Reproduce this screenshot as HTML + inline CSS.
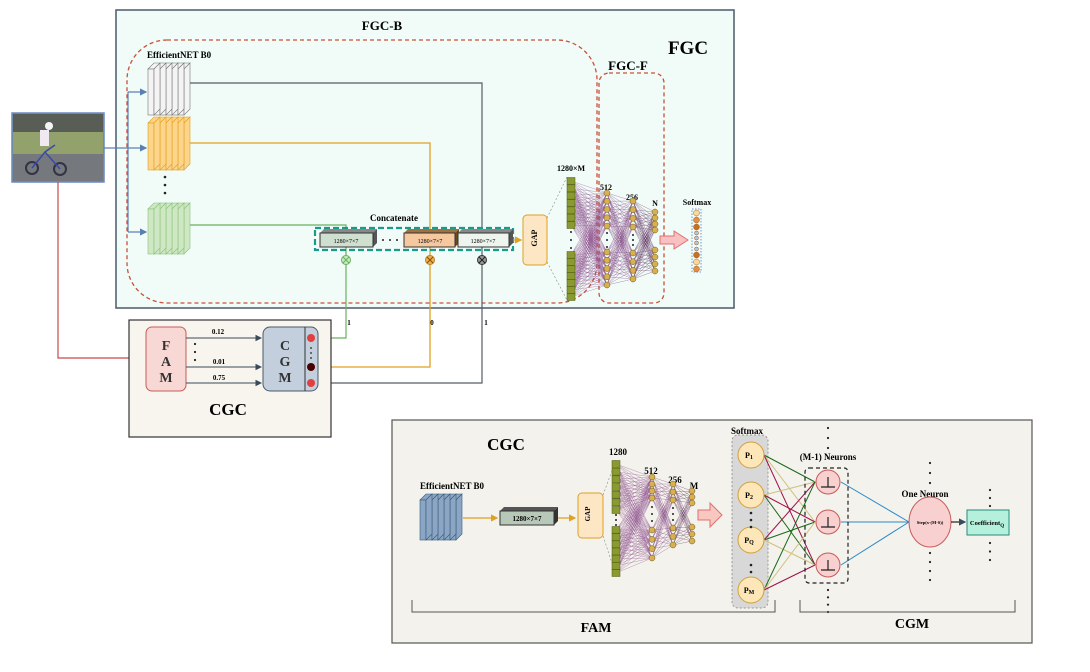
<!DOCTYPE html>
<html><head><meta charset="utf-8"><style>
html,body{margin:0;padding:0;background:#fff;}
svg{display:block;font-family:"Liberation Serif",serif;font-weight:bold;}
</style></head><body>
<svg id="s" width="1090" height="672" viewBox="0 0 1090 672" xmlns="http://www.w3.org/2000/svg">
<defs>
<marker id="ab" markerWidth="6" markerHeight="6" refX="5" refY="3" orient="auto"><path d="M0,0 L6,3 L0,6 z" fill="#5b7fb5"/></marker>
<marker id="ak" markerWidth="6" markerHeight="6" refX="5" refY="3" orient="auto"><path d="M0,0 L6,3 L0,6 z" fill="#3a4a5a"/></marker>
<marker id="ao" markerWidth="6" markerHeight="6" refX="5" refY="3" orient="auto"><path d="M0,0 L6,3 L0,6 z" fill="#e0a020"/></marker>
</defs>
<rect x="116" y="10" width="618" height="298" fill="#f1fbf8" stroke="#4a5a6a" stroke-width="1.5"/>
<text x="382" y="30" font-size="13" text-anchor="middle">FGC-B</text>
<text x="688" y="54" font-size="19" text-anchor="middle">FGC</text>
<text x="628" y="70" font-size="13" text-anchor="middle">FGC-F</text>
<rect x="127" y="40" width="470" height="263" rx="40" fill="none" stroke="#c8503a" stroke-width="1.3" stroke-dasharray="4,3"/>
<rect x="599" y="73" width="65" height="230" rx="10" fill="none" stroke="#c8503a" stroke-width="1.3" stroke-dasharray="4,3"/>
<text x="147" y="58" font-size="9">EfficientNET B0</text>
<g id="stacks"></g>
<circle cx="165" cy="177" r="1.3" fill="#222"/><circle cx="165" cy="185" r="1.3" fill="#222"/><circle cx="165" cy="193" r="1.3" fill="#222"/>
<rect x="12" y="113" width="92" height="69" fill="#7a8a6a" stroke="#6a8ac0" stroke-width="1.5"/>
<rect x="13" y="114" width="90" height="18" fill="#4a5048"/>
<rect x="13" y="132" width="90" height="22" fill="#8a9a60"/>
<rect x="13" y="154" width="90" height="27" fill="#6a6e72"/>
<circle cx="32" cy="168" r="6" fill="none" stroke="#223" stroke-width="2"/><circle cx="60" cy="169" r="6" fill="none" stroke="#223" stroke-width="2"/>
<path d="M32,168 L45,152 L60,169 M45,152 L55,145" stroke="#2a3aa0" stroke-width="1.5" fill="none"/>
<rect x="40" y="130" width="9" height="16" fill="#f0e8f0"/><circle cx="49" cy="126" r="4" fill="#f4f4f4"/>
<rect x="13" y="114" width="90" height="67" fill="#ffffff" opacity="0.08"/>
<path d="M104,148 H128 M128,92 V232" stroke="#5b7fb5" stroke-width="1.2" fill="none"/>
<line x1="128" y1="92" x2="146" y2="92" stroke="#5b7fb5" stroke-width="1.2" marker-end="url(#ab)"/>
<line x1="128" y1="148" x2="146" y2="148" stroke="#5b7fb5" stroke-width="1.2" marker-end="url(#ab)"/>
<line x1="128" y1="232" x2="146" y2="232" stroke="#5b7fb5" stroke-width="1.2" marker-end="url(#ab)"/>
<path d="M190,83 H482 V383 H318" stroke="#555e66" stroke-width="1.2" fill="none"/>
<path d="M190,143 H430 V367 H318" stroke="#e0a020" stroke-width="1.3" fill="none"/>
<path d="M190,225 H346 V338 H318" stroke="#6ab060" stroke-width="1.2" fill="none"/>
<path d="M58,182 V358 H129" stroke="#c84a4a" stroke-width="1.2" fill="none"/>
<text x="394" y="221" font-size="9" text-anchor="middle">Concatenate</text>
<rect x="315" y="228" width="198" height="22" fill="none" stroke="#1a9a8a" stroke-width="2.2" stroke-dasharray="6,3"/>
<g font-size="6" font-weight="normal" text-anchor="middle">
<polygon points="320,233 324,229 377,229 373,233" fill="#888"/><polygon points="373,233 377,229 377,243 373,247" fill="#555"/>
<rect x="320" y="233" width="53" height="14" fill="#cfe0d0" stroke="#333"/><text x="346" y="243">1280×7×7</text>
<circle cx="383" cy="240" r="1" fill="#222"/><circle cx="390" cy="240" r="1" fill="#222"/><circle cx="397" cy="240" r="1" fill="#222"/>
<polygon points="404,233 408,229 459,229 455,233" fill="#a07040"/><polygon points="455,233 459,229 459,243 455,247" fill="#6a4a20"/>
<rect x="404" y="233" width="51" height="14" fill="#f5c8a0" stroke="#333"/><text x="430" y="243">1280×7×7</text>
<polygon points="458,233 462,229 513,229 509,233" fill="#888"/><polygon points="509,233 513,229 513,243 509,247" fill="#555"/>
<rect x="458" y="233" width="51" height="14" fill="#eef4ee" stroke="#333"/><text x="483" y="243">1280×7×7</text>
</g>
<line x1="513" y1="240" x2="521" y2="240" stroke="#e0a020" stroke-width="1.2" marker-end="url(#ao)"/>
<g stroke-width="1">
<circle cx="346" cy="260" r="4.5" fill="#c8eac0" stroke="#6ab060"/><path d="M343,257 l6,6 M349,257 l-6,6" stroke="#6ab060"/>
<circle cx="430" cy="260" r="4.5" fill="#f0b050" stroke="#c08020"/><path d="M427,257 l6,6 M433,257 l-6,6" stroke="#805010"/>
<circle cx="482" cy="260" r="4.5" fill="#999" stroke="#333"/><path d="M479,257 l6,6 M485,257 l-6,6" stroke="#222"/>
</g>
<rect x="523" y="215" width="24" height="50" rx="4" fill="#fde6c4" stroke="#e0a020"/>
<text x="539" y="240" font-size="8" text-anchor="middle" transform="rotate(-90 537 240)">GAP</text>
<line x1="547" y1="218" x2="567" y2="177" stroke="#888" stroke-width="0.6" stroke-dasharray="2,2"/>
<line x1="547" y1="262" x2="567" y2="300" stroke="#888" stroke-width="0.6" stroke-dasharray="2,2"/>
<text x="571" y="171" font-size="8" text-anchor="middle">1280×M</text>
<text x="606" y="190" font-size="8" text-anchor="middle">512</text>
<text x="632" y="200" font-size="8" text-anchor="middle">256</text>
<text x="655" y="206" font-size="8" text-anchor="middle">N</text>
<text x="697" y="205" font-size="8" text-anchor="middle">Softmax</text>
<g id="net1"></g>
<polygon points="660,236 674,236 674,231 688,240 674,249 674,244 660,244" fill="#f8c0c0" stroke="#e07070"/>
<rect x="692" y="209" width="9" height="63" fill="none" stroke="#6a9ad0" stroke-dasharray="1.5,1.5"/>
<g id="soft"></g>
<rect x="129" y="320" width="202" height="117" fill="#f8f5ee" stroke="#333" stroke-width="1.2"/>
<rect x="146" y="327" width="40" height="64" rx="6" fill="#f8d8d4" stroke="#c85a5a"/>
<text x="166" y="350" font-size="14" text-anchor="middle" fill="#333">F</text>
<text x="166" y="366" font-size="14" text-anchor="middle" fill="#333">A</text>
<text x="166" y="382" font-size="14" text-anchor="middle" fill="#333">M</text>
<rect x="263" y="327" width="55" height="64" rx="7" fill="#c3cfdc" stroke="#4a5a6a"/>
<line x1="305" y1="327" x2="305" y2="391" stroke="#333"/>
<text x="285" y="350" font-size="14" text-anchor="middle" fill="#333">C</text>
<text x="285" y="366" font-size="14" text-anchor="middle" fill="#333">G</text>
<text x="285" y="382" font-size="14" text-anchor="middle" fill="#333">M</text>
<circle cx="311" cy="338" r="4" fill="#e04040"/><circle cx="311" cy="367" r="4" fill="#4a0000"/><circle cx="311" cy="383" r="4" fill="#e04040"/>
<circle cx="311" cy="348" r="0.9" fill="#222"/><circle cx="311" cy="353" r="0.9" fill="#222"/><circle cx="311" cy="358" r="0.9" fill="#222"/>
<g stroke="#3a4a5a" stroke-width="1.1">
<line x1="186" y1="338" x2="261" y2="338" marker-end="url(#ak)"/>
<line x1="186" y1="367" x2="261" y2="367" marker-end="url(#ak)"/>
<line x1="186" y1="383" x2="261" y2="383" marker-end="url(#ak)"/>
</g>
<circle cx="195" cy="344" r="1.1" fill="#222"/><circle cx="195" cy="352" r="1.1" fill="#222"/><circle cx="195" cy="360" r="1.1" fill="#222"/>
<g font-size="7" text-anchor="middle"><text x="218" y="334">0.12</text><text x="219" y="364">0.01</text><text x="219" y="380">0.75</text>
<text x="349" y="325">1</text><text x="432" y="325">0</text><text x="486" y="325">1</text></g>
<text x="228" y="415" font-size="17" text-anchor="middle">CGC</text>
<rect x="392" y="420" width="640" height="223" fill="#f3f2ec" stroke="#555" stroke-width="1.2"/>
<text x="506" y="450" font-size="17" text-anchor="middle">CGC</text>
<text x="452" y="489" font-size="9" text-anchor="middle">EfficientNET B0</text>
<g id="bstack"></g>
<line x1="463" y1="518" x2="497" y2="518" stroke="#e0a020" stroke-width="1.2" marker-end="url(#ao)"/>
<polygon points="500,511 504,507 558,507 554,511" fill="#555"/><polygon points="554,511 558,507 558,521 554,525" fill="#333"/>
<rect x="500" y="511" width="54" height="14" fill="#b8c8b8" stroke="#333"/>
<text x="527" y="521" font-size="7" text-anchor="middle">1280×7×7</text>
<line x1="558" y1="518" x2="575" y2="518" stroke="#e0a020" stroke-width="1.2" marker-end="url(#ao)"/>
<rect x="578" y="493" width="25" height="45" rx="4" fill="#fde6c4" stroke="#e0a020"/>
<text x="592" y="516" font-size="7" text-anchor="middle" transform="rotate(-90 590 516)">GAP</text>
<line x1="603" y1="495" x2="616" y2="460" stroke="#888" stroke-width="0.6" stroke-dasharray="2,2"/>
<line x1="603" y1="536" x2="616" y2="575" stroke="#888" stroke-width="0.6" stroke-dasharray="2,2"/>
<text x="618" y="455" font-size="9" text-anchor="middle">1280</text>
<text x="651" y="474" font-size="9" text-anchor="middle">512</text>
<text x="675" y="483" font-size="9" text-anchor="middle">256</text>
<text x="694" y="489" font-size="9" text-anchor="middle">M</text>
<g id="net2"></g>
<polygon points="698,510 710,510 710,503 722,515 710,527 710,520 698,520" fill="#f8c8c0" stroke="#e07070"/>
<rect x="732" y="435" width="36" height="173" rx="6" fill="#d8d8d8" stroke="#999" stroke-dasharray="2,2"/>
<text x="747" y="434" font-size="9" text-anchor="middle">Softmax</text>
<g id="conn"></g>
<g id="pn"></g>
<rect x="805" y="468" width="43" height="115" rx="4" fill="none" stroke="#222" stroke-width="1.2" stroke-dasharray="4,3"/>
<text x="828" y="460" font-size="9" text-anchor="middle">(M-1) Neurons</text>
<g id="neu"></g>
<text x="925" y="497" font-size="9" text-anchor="middle">One Neuron</text>
<ellipse cx="930" cy="522" rx="21" ry="25" fill="#f8d0d0" stroke="#c85a5a"/>
<text x="930" y="524" font-size="4.5" text-anchor="middle">Step(x-(M-S))</text>
<line x1="951" y1="522" x2="965" y2="522" stroke="#222" stroke-width="1.2" marker-end="url(#ak)"/>
<rect x="967" y="510" width="42" height="25" fill="#b4f0dc" stroke="#2a8a7a"/>
<text x="987" y="525" font-size="6.5" text-anchor="middle">Coefficient<tspan font-size="5" dy="2">Q</tspan></text>
<g id="dots"></g>
<path d="M412,600 V612 H775 V600" fill="none" stroke="#555"/>
<path d="M800,600 V612 H1015 V600" fill="none" stroke="#555"/>
<text x="596" y="632" font-size="14" text-anchor="middle">FAM</text>
<text x="912" y="628" font-size="14" text-anchor="middle">CGM</text>
</svg>
<script>
const NS="http://www.w3.org/2000/svg";
function el(p,t,a){const e=document.createElementNS(NS,t);for(const k in a)e.setAttribute(k,a[k]);document.getElementById(p).appendChild(e);return e;}
function stack(p,x,y,h,fill,st,n,dx){for(let i=n-1;i>=0;i--){const X=x+i*dx;el(p,'polygon',{points:`${X},${y+6} ${X+6},${y} ${X+12},${y} ${X+6},${y+6}`,fill:fill,stroke:st,'stroke-width':0.6});el(p,'rect',{x:X,y:y+6,width:6,height:h-6,fill:fill,stroke:st,'stroke-width':0.6});el(p,'polygon',{points:`${X+6},${y+6} ${X+12},${y} ${X+12},${y+h-6} ${X+6},${y+h}`,fill:fill,stroke:st,'stroke-width':0.6});}}
stack('stacks',148,63,52,'#f4f4f4','#777',6,6);
stack('stacks',148,117,53,'#fcd48a','#e0a020',6,6);
stack('stacks',148,203,51,'#cfe8c4','#8ac07a',6,6);
stack('bstack',420,494,46,'#8aa6c4','#3a5a7a',6,6);
function net(p,cols,colors){
 for(let c=0;c<cols.length-1;c++){const A=cols[c],B=cols[c+1];for(const a of A.ys)for(const b of B.ys)el(p,'line',{x1:A.x,y1:a,x2:B.x,y2:b,stroke:colors[c],'stroke-width':0.35,opacity:0.8});}
 cols.forEach((C,i)=>{C.ys.forEach(y=>{if(C.sq)el(p,'rect',{x:C.x-4,y:y-3.5,width:8,height:7,fill:'#8a9a30',stroke:'#4a5a10','stroke-width':0.5});else el(p,'circle',{cx:C.x,cy:y,r:C.r||3.3,fill:'#d8b050',stroke:'#6a5a20','stroke-width':0.5});});
 if(C.dots)C.dots.forEach(y=>el(p,'circle',{cx:C.x,cy:y,r:1,fill:'#222'}));});
}
function rng(a,b,n){const r=[];for(let i=0;i<n;i++)r.push(a+(b-a)*i/(n-1));return r;}
net('net1',[
 {x:571,sq:1,ys:rng(181,225,7).concat(rng(255,297,7)),dots:[232,240,248]},
 {x:607,ys:rng(193,226,5).concat(rng(252,285,5)),dots:[233,240,247],r:3},
 {x:633,ys:rng(201,227,4).concat(rng(253,279,4)),dots:[235,240,245],r:3},
 {x:655,ys:rng(212,230,4).concat(rng(250,271,4)),r:3}
],['#8a4a8a','#7a3a7a','#5a2a5a']);
net('net2',[
 {x:616,sq:1,ys:rng(464,510,7).concat(rng(530,573,7)),dots:[515,520,525]},
 {x:652,ys:rng(477,498,4).concat(rng(530,558,4)),dots:[507,514,521],r:3},
 {x:673,ys:rng(484,500,3).concat(rng(528,545,3)),dots:[508,514,520],r:3},
 {x:692,ys:rng(491,503,3).concat(rng(527,541,3)),r:3}
],['#8a4a8a','#7a3a7a','#5a2a5a']);
[[213,'#f8d8a0'],[220,'#e09040'],[227,'#c87020'],[233,'#a8c8e8',2],[238,'#a8c8e8',2],[243,'#a8c8e8',2],[249,'#a8c8e8',2],[255,'#c87020'],[262,'#f8d8a0'],[269,'#e09040']].forEach(a=>el('soft','circle',{cx:696.5,cy:a[0],r:a[2]||3,fill:a[1],stroke:'#a06020','stroke-width':0.5}));
const P=[[455,'P','1'],[495,'P','2'],[540,'P','Q'],[590,'P','M']];const N=[482,522,565];
const cc=['#1a6a1a','#d0c080','#a0104a'];
P.forEach((p,i)=>{N.forEach((n,j)=>{const col=(i+j)%3==0?cc[0]:((i+j)%3==1?cc[1]:cc[2]);el('conn','line',{x1:764,y1:p[0],x2:815,y2:n,stroke:col,'stroke-width':1});});});
N.forEach(n=>el('conn','line',{x1:841,y1:n,x2:909,y2:522,stroke:'#2a8ac8','stroke-width':1}));
P.forEach(p=>{el('pn','circle',{cx:751,cy:p[0],r:13,fill:'#fde6b8',stroke:'#d0a040'});const t=el('pn','text',{x:749,y:p[0]+3,'font-size':8,'text-anchor':'middle'});t.textContent=p[1];const s=document.createElementNS(NS,'tspan');s.setAttribute('font-size',6);s.setAttribute('dy',1);s.textContent=p[2];t.appendChild(s);});
[[751,513],[751,520],[751,527],[751,565],[751,572]].forEach(d=>el('pn','circle',{cx:d[0],cy:d[1],r:1.3,fill:'#222'}));
N.forEach(n=>{el('neu','circle',{cx:828,cy:n,r:12,fill:'#f8d0d0',stroke:'#c85a5a'});el('neu','path',{d:`M821,${n+5} H828 V${n-5} M828,${n+5} H835`,stroke:'#222',fill:'none','stroke-width':1.2});});
function vd(x,a,b,n){rng(a,b,n).forEach(y=>el('dots','circle',{cx:x,cy:y,r:1.1,fill:'#222'}));}
vd(828,428,458,4);vd(828,590,612,4);vd(930,463,483,3);vd(930,553,580,4);vd(990,490,506,3);vd(990,543,560,3);
</script>
</body></html>
